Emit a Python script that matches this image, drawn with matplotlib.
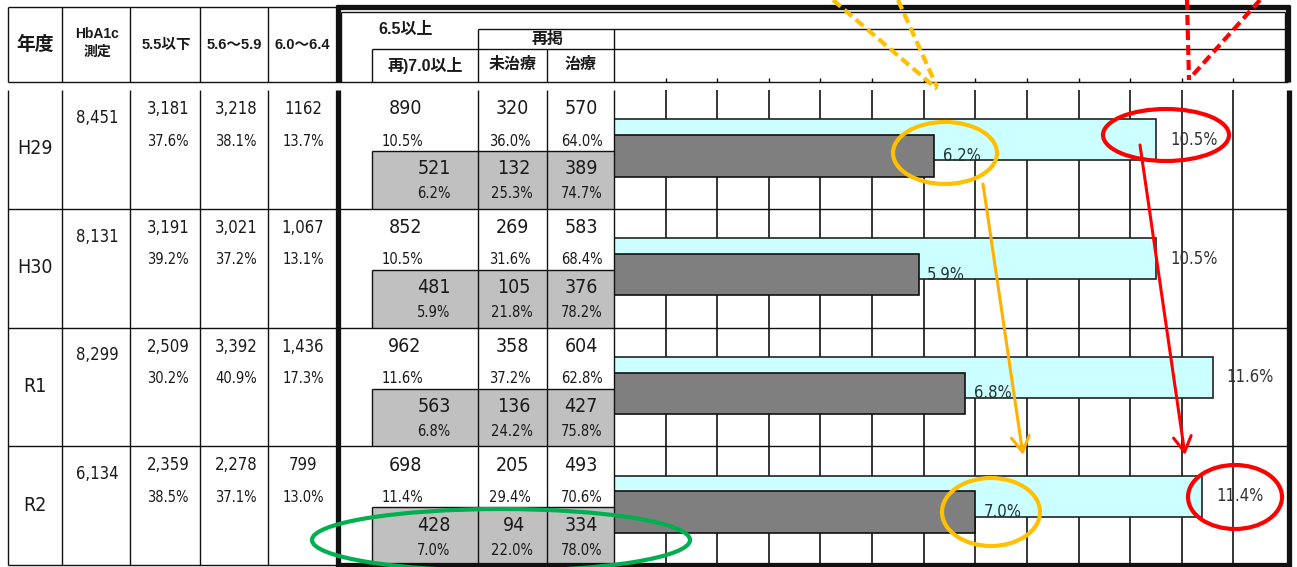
import matplotlib
matplotlib.use('Agg')
import matplotlib.pyplot as plt
from matplotlib import font_manager
from matplotlib.font_manager import FontProperties
from matplotlib.patches import Ellipse, Rectangle

years = ['H29', 'H30', 'R1', 'R2']
hba1c_n = ['8,451', '8,131', '8,299', '6,134']
le55_n = ['3,181', '3,191', '2,509', '2,359']
le55_p = ['37.6%', '39.2%', '30.2%', '38.5%']
r56_n = ['3,218', '3,021', '3,392', '2,278']
r56_p = ['38.1%', '37.2%', '40.9%', '37.1%']
r60_n = ['1162', '1,067', '1,436', '799']
r60_p = ['13.7%', '13.1%', '17.3%', '13.0%']

ge65_n = [890, 852, 962, 698]
ge65_p = [10.5, 10.5, 11.6, 11.4]
ge65_untreated_n = [320, 269, 358, 205]
ge65_untreated_p = [36.0, 31.6, 37.2, 29.4]
ge65_treated_n = [570, 583, 604, 493]
ge65_treated_p = [64.0, 68.4, 62.8, 70.6]

ge70_n = [521, 481, 563, 428]
ge70_p = [6.2, 5.9, 6.8, 7.0]
ge70_untreated_n = [132, 105, 136, 94]
ge70_untreated_p = [25.3, 21.8, 24.2, 22.0]
ge70_treated_n = [389, 376, 427, 334]
ge70_treated_p = [74.7, 78.2, 75.8, 78.0]

# ---- fonts: the numbers in the original are a narrow face ----
def find_narrow():
    prefs = ['Liberation Sans Narrow', 'Arial Narrow', 'DejaVu Sans', 'Noto Sans',
             'Roboto', 'Open Sans']
    found = {}
    for f in font_manager.fontManager.ttflist:
        st = str(f.stretch).lower()
        narrow = ('condensed' in st or 'narrow' in f.name.lower()
                  or 'condensed' in f.name.lower()
                  or (st.isdigit() and int(st) < 500))
        if not narrow or f.style != 'normal' or 'semi' in st or 'extra' in st:
            continue
        w = f.weight if isinstance(f.weight, int) else {'normal': 400, 'regular': 400}.get(str(f.weight), 700)
        if w != 400:
            continue
        for p in prefs:
            if f.name.startswith(p) and p not in found:
                found[p] = f.fname
    for p in prefs:
        if p in found:
            return found[p]
    return None


narrow_file = find_narrow()
hdr_font = ['Liberation Sans', 'Noto Sans CJK JP']
k = 1.0 if narrow_file else 0.85


def numprop(size):
    if narrow_file:
        return FontProperties(fname=narrow_file, size=size)
    return FontProperties(family=['Liberation Sans'], size=size * k)


W, H = 1297, 567
fig = plt.figure(figsize=(W / 100, H / 100), dpi=100)

# chart area in pixels
X0, X1 = 614, 1285
Y0, Y1 = 90, 565
NMAX = 13
row_h = (Y1 - Y0) / 4
rows = [Y0 + i * row_h for i in range(5)]
unit = (X1 - X0) / NMAX

# bar chart
bx = fig.add_axes([X0 / W, 1 - Y1 / H, (X1 - X0) / W, (Y1 - Y0) / H])
bx.set_xlim(0, NMAX)
bx.set_ylim(4, 0)
bx.axis('off')
bx.vlines(range(1, NMAX), 0, 4, color='black', lw=1.1, zorder=1)
pos = list(range(len(years)))
bx.barh([i + 0.42 for i in pos], ge65_p, height=0.345, color='#CCFFFF',
        edgecolor='#222222', lw=1.2, zorder=2)
bx.barh([i + 0.555 for i in pos], ge70_p, height=0.35, color='#7F7F7F',
        edgecolor='#111111', lw=1.2, zorder=3)
for i in pos:
    bx.text(ge65_p[i] + 0.27, i + 0.42, f'{ge65_p[i]}%', fontproperties=numprop(12),
            ha='left', va='center', color='#333333', zorder=5)
    bx.text(ge70_p[i] + 0.17, i + 0.555, f'{ge70_p[i]}%', fontproperties=numprop(12),
            ha='left', va='center', color='#223333', zorder=5)

# table layer (pixel coords, y down)
ax = fig.add_axes([0, 0, 1, 1])
ax.set_zorder(2)
ax.set_xlim(0, W)
ax.set_ylim(H, 0)
ax.axis('off')

LC = '#111111'


def hl(y, x0, x1, lw=1.0):
    ax.plot([x0, x1], [y, y], color=LC, lw=lw, solid_capstyle='butt')


def vl(x, y0, y1, lw=1.0):
    ax.plot([x, x], [y0, y1], color=LC, lw=lw, solid_capstyle='butt')


def put(x, y, s, size):
    ax.text(x, y, s, fontproperties=numprop(size), ha='center', va='center',
            color='#1a1a1a')


def head(x, y, s, size):
    ax.text(x, y, s, fontsize=size, family=hdr_font, fontweight='bold',
            ha='center', va='center', color='#1a1a1a')


# gray cells (7.0以上 rows)
for i in pos:
    ax.add_patch(Rectangle((372, rows[i] + 61), X0 - 372, rows[i + 1] - rows[i] - 61,
                           facecolor='#C0C0C0', edgecolor='none', zorder=0))

# header lines
left_cols = [8, 62, 130, 200, 268]
hl(7, 8, 336)
hl(82, 8, 1288)
for x in left_cols:
    vl(x, 7, 82)
hl(12, 341, 1285)
vl(341, 12, 82)
vl(1285, 12, 82)
hl(29, 478, 1285)
hl(49, 372, 1285)
vl(372, 49, 82)
vl(478, 29, 82)
vl(547, 49, 82)
vl(X0, 29, 82)
for j in range(1, NMAX):
    vl(X0 + j * unit, 78, 82)

# thick frame
TW = 3.8
hl(7, 336, 1290, TW)
vl(338, 5, 82, TW)
vl(1288, 5, 82, TW)
vl(338, 90, 567, TW)
vl(1289, 90, 567, TW)
hl(565, 336, 1291, TW)

# data lines
for x in left_cols + [478, 547, X0]:
    vl(x, Y0, Y1)
hl(Y1, 8, 336)
for r in rows[1:4]:
    hl(r, 8, 1288)
for i in pos:
    vl(372, rows[i] + 61, rows[i + 1])
    hl(rows[i] + 61, 372, X0)

# header text
head(35, 45, '年度', 13.5)
head(97, 34, 'HbA1c', 10)
head(97, 52, '測定', 10)
head(166, 45, '5.5以下', 10.5)
head(234, 45, '5.6～5.9', 10.5)
head(302, 45, '6.0～6.4', 10.5)
head(406, 29, '6.5以上', 11.5)
head(548, 39, '再掲', 11.5)
head(425, 65, '再)7.0以上', 11.5)
head(513, 65, '未治療', 11.5)
head(581, 65, '治療', 11.5)

# body text
for i in pos:
    t = rows[i]
    put(35, t + 59, years[i], 14)
    put(97, t + 28, hba1c_n[i], 12)
    for x, n, p in [(168, le55_n, le55_p), (236, r56_n, r56_p), (303, r60_n, r60_p)]:
        put(x, t + 19, n[i], 12)
        put(x, t + 51, p[i], 10.5)
    put(405, t + 19, f'{ge65_n[i]}', 14)
    put(402, t + 51, f'{ge65_p[i]:.1f}%', 10.5)
    put(512, t + 19, f'{ge65_untreated_n[i]}', 14)
    put(510, t + 51, f'{ge65_untreated_p[i]:.1f}%', 10.5)
    put(581, t + 19, f'{ge65_treated_n[i]}', 14)
    put(582, t + 51, f'{ge65_treated_p[i]:.1f}%', 10.5)
    put(434, t + 79, f'{ge70_n[i]}', 14)
    put(434, t + 104, f'{ge70_p[i]:.1f}%', 10.5)
    put(514, t + 79, f'{ge70_untreated_n[i]}', 14)
    put(512, t + 104, f'{ge70_untreated_p[i]:.1f}%', 10.5)
    put(581, t + 79, f'{ge70_treated_n[i]}', 14)
    put(582, t + 104, f'{ge70_treated_p[i]:.1f}%', 10.5)

# ---- hand-drawn highlights ----
ORANGE = '#FFC000'
RED = '#FF0000'
GREEN = '#00B050'
dash = (0, (2.4, 1.2))
ax.plot([833, 937], [0, 89], color=ORANGE, lw=3, ls=dash, zorder=10)
ax.plot([898, 937], [0, 87], color=ORANGE, lw=3, ls=dash, zorder=10)
ax.plot([1187, 1189], [0, 80], color=RED, lw=3, ls=dash, zorder=10)
ax.plot([1260, 1192], [0, 76], color=RED, lw=3, ls=dash, zorder=10)

for (cx, cy), w, h, c in [((945, 153), 104, 62, ORANGE), ((1166, 135), 126, 52, RED),
                          ((991, 512), 98, 68, ORANGE), ((1235, 497), 94, 64, RED),
                          ((501, 540), 378, 62, GREEN)]:
    ax.add_patch(Ellipse((cx, cy), w, h, fill=False, edgecolor=c, lw=3, zorder=10))

arrow = '->,head_length=0.55,head_width=0.32'
ax.annotate('', xy=(1023, 455), xytext=(983, 184),
            arrowprops=dict(arrowstyle=arrow, color='#FFB000', lw=2.2,
                            mutation_scale=20, shrinkA=0, shrinkB=0), zorder=10)
ax.annotate('', xy=(1185, 455), xytext=(1140, 145),
            arrowprops=dict(arrowstyle=arrow, color=RED, lw=2.2,
                            mutation_scale=20, shrinkA=0, shrinkB=0), zorder=10)

fig.savefig('out.png', dpi=100)
